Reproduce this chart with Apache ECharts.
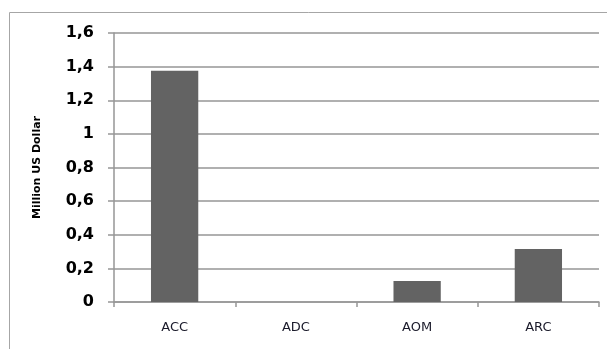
<!DOCTYPE html>
<html><head><meta charset="utf-8">
<script src="https://cdn.jsdelivr.net/npm/echarts@6/dist/echarts.min.js"></script>
<style>html,body{margin:0;padding:0;background:#fff}#c{width:607px;height:349px}</style>
</head><body><div id="c"></div>
<script>
const categories = ["ACC", "ADC", "AOM", "ARC"];
const values = [1.375, 0, 0.125, 0.315];
const yTicks = {min: 0, max: 1.6, interval: 0.2};
const yName = "Million US Dollar";

const chart = echarts.init(document.getElementById('c'), null, {renderer: 'canvas'});
chart.setOption({
  animation: false,
  backgroundColor: '#fff',
  graphic: [{
    type: 'rect', shape: {x: 9.5, y: 12.5, width: 700, height: 400},
    style: {fill: 'none', stroke: '#a6a6a6', lineWidth: 1}, silent: true, z: 0
  }],
  grid: {left: 114, right: 8, top: 33, bottom: 47},
  xAxis: {
    type: 'category', data: categories,
    axisLine: {lineStyle: {color: '#969696', width: 1.5}},
    axisTick: {show: true, length: 5, lineStyle: {color: '#969696', width: 1.5}},
    axisLabel: {margin: 19, fontFamily: 'DejaVu Sans', fontSize: 13, color: '#1a1a2a'}
  },
  yAxis: {
    type: 'value', min: yTicks.min, max: yTicks.max, interval: yTicks.interval,
    name: yName, nameLocation: 'middle', nameGap: 71, nameRotate: 90,
    nameTextStyle: {fontFamily: 'DejaVu Sans', fontWeight: 'bold', fontSize: 11, color: '#000'},
    axisLine: {show: true, lineStyle: {color: '#969696', width: 1.5}},
    axisTick: {show: true, length: 6, lineStyle: {color: '#969696', width: 1.5}},
    splitLine: {show: true, lineStyle: {color: '#969696', width: 1.5}},
    axisLabel: {
      margin: 20, fontFamily: 'DejaVu Sans', fontWeight: 'bold', fontSize: 16, color: '#000',
      formatter: v => (Math.round(v * 10) / 10).toString().replace('.', ',')
    }
  },
  series: [{
    type: 'bar', data: values, barWidth: '39%',
    itemStyle: {color: '#636363'}
  }]
});
</script></body></html>
